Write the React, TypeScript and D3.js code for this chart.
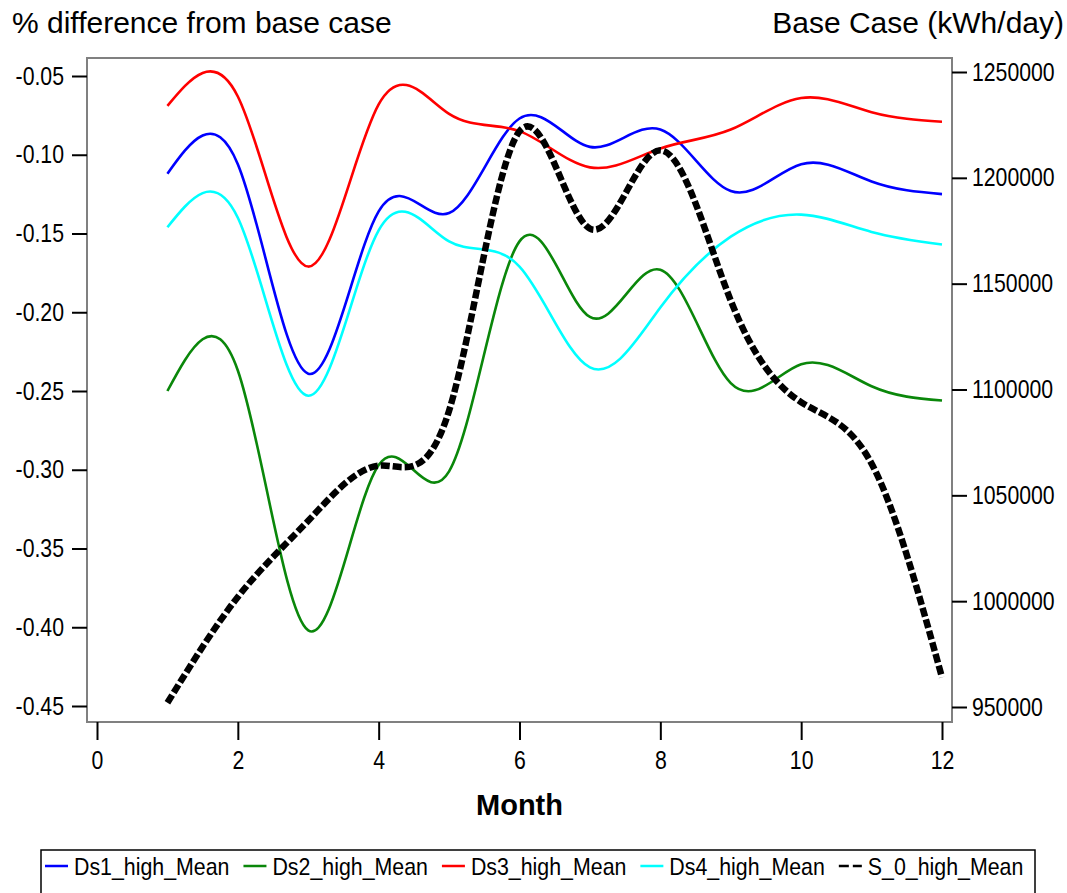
import React, { useRef, useEffect } from 'react';
import * as d3 from 'd3';

// monthly means
const months = [1, 2, 3, 4, 5, 6, 7, 8, 9, 10, 11, 12];
const ds1High = [-0.112, -0.106, -0.239, -0.136, -0.137, -0.077, -0.095, -0.084, -0.123, -0.106, -0.117, -0.125];
const ds2High = [-0.250, -0.237, -0.402, -0.297, -0.301, -0.155, -0.203, -0.173, -0.245, -0.233, -0.247, -0.256];
const ds3High = [-0.069, -0.063, -0.171, -0.068, -0.074, -0.085, -0.108, -0.096, -0.084, -0.064, -0.073, -0.079];
const ds4High = [-0.146, -0.140, -0.253, -0.148, -0.155, -0.171, -0.235, -0.197, -0.152, -0.138, -0.149, -0.157];
const s0High = [952000, 1002000, 1038000, 1064000, 1090000, 1222000, 1176000, 1213000, 1142000, 1094000, 1065000, 964000];

const seriesNames = ['Ds1_high_Mean', 'Ds2_high_Mean', 'Ds3_high_Mean', 'Ds4_high_Mean', 'S_0_high_Mean'];
const seriesColors = ['#0000ff', '#0a870a', '#ff0000', '#00ffff', '#000000'];

const leftTicks = [-0.45, -0.40, -0.35, -0.30, -0.25, -0.20, -0.15, -0.10, -0.05];
const rightTicks = [950000, 1000000, 1050000, 1100000, 1150000, 1200000, 1250000];
const monthTicks = [0, 2, 4, 6, 8, 10, 12];

const FONT = '"Liberation Sans", Arial, sans-serif';
const SQ = 0.85; // the original glyphs are narrow

const App = () => {
    const svgRef = useRef<SVGSVGElement>(null);

    useEffect(() => {
        drawChart();
    }, []);

    const drawChart = () => {
        const svg = d3.select(svgRef.current);
        svg.selectAll('*').remove();

        const frame = { left: 87, right: 952, top: 58, bottom: 722 };

        const x = d3.scaleLinear().domain([0, 12]).range([97, 942]);
        const yL = d3.scaleLinear().domain([-0.45, -0.05]).range([706, 76]);
        const yR = d3.scaleLinear().domain([950000, 1250000]).range([707, 72]);

        svg.append('rect')
            .attr('width', 1067).attr('height', 893).attr('fill', '#fff');

        // plot frame
        svg.append('rect')
            .attr('x', frame.left).attr('y', frame.top)
            .attr('width', frame.right - frame.left)
            .attr('height', frame.bottom - frame.top)
            .attr('fill', 'none')
            .attr('stroke', '#808080')
            .attr('stroke-width', 2);

        const styleAxis = (g, size) => {
            g.select('.domain').remove();
            g.attr('font-family', FONT).attr('font-size', size);
            g.selectAll('line').attr('stroke', '#000').attr('stroke-width', 2);
            g.selectAll('text').attr('fill', '#000');
        };

        const gL = svg.append('g')
            .attr('transform', `translate(${frame.left},0)`)
            .call(d3.axisLeft(yL).tickValues(leftTicks).tickSize(15).tickFormat(d => d.toFixed(2)));
        styleAxis(gL, 25);
        gL.selectAll('text').attr('x', -23 / SQ).attr('transform', `scale(${SQ},1)`);

        const gR = svg.append('g')
            .attr('transform', `translate(${frame.right},0)`)
            .call(d3.axisRight(yR).tickValues(rightTicks).tickSize(15).tickFormat(d => String(d)));
        styleAxis(gR, 25);
        gR.selectAll('text').attr('x', 20 / SQ).attr('transform', `scale(${SQ},1)`);

        const gB = svg.append('g')
            .attr('transform', `translate(0,${frame.bottom})`)
            .call(d3.axisBottom(x).tickValues(monthTicks).tickSize(18).tickFormat(d => String(d)));
        styleAxis(gB, 25);
        gB.selectAll('text').attr('y', 29).attr('transform', `scale(${SQ},1)`);

        // titles
        svg.append('text')
            .attr('x', 12).attr('y', 33)
            .attr('font-family', FONT).attr('font-size', 30)
            .text('% difference from base case');

        svg.append('text')
            .attr('x', 1064).attr('y', 33)
            .attr('text-anchor', 'end')
            .attr('font-family', FONT).attr('font-size', 30)
            .text('Base Case (kWh/day)');

        svg.append('text')
            .attr('x', (x(0) + x(12)) / 2).attr('y', 815)
            .attr('text-anchor', 'middle')
            .attr('font-family', FONT).attr('font-size', 29).attr('font-weight', 'bold')
            .text('Month');

        // series
        const leftLine = d3.line<number>()
            .x((d, i) => x(months[i]))
            .y(d => yL(d))
            .curve(d3.curveNatural);

        const rightLine = d3.line<number>()
            .x((d, i) => x(months[i]))
            .y(d => yR(d))
            .curve(d3.curveNatural);

        [ds1High, ds2High, ds3High, ds4High].forEach((vals, i) => {
            svg.append('path')
                .attr('d', leftLine(vals))
                .attr('fill', 'none')
                .attr('stroke', seriesColors[i])
                .attr('stroke-width', 2.6);
        });

        svg.append('path')
            .attr('d', rightLine(s0High))
            .attr('fill', 'none')
            .attr('stroke', seriesColors[4])
            .attr('stroke-width', 6.5)
            .attr('stroke-dasharray', '9,3');

        // legend
        svg.append('rect')
            .attr('x', 41).attr('y', 850)
            .attr('width', 994).attr('height', 60)
            .attr('fill', 'none')
            .attr('stroke', '#000')
            .attr('stroke-width', 1.5);

        const LSQ = 0.89;
        let cx = 45;
        seriesNames.forEach((name, i) => {
            const lg = svg.append('g').attr('transform', `translate(${cx},0)`);
            lg.append('line')
                .attr('x1', 0).attr('x2', 23)
                .attr('y1', 866).attr('y2', 866)
                .attr('stroke', seriesColors[i])
                .attr('stroke-width', 2.5)
                .attr('stroke-dasharray', i === 4 ? '10,4' : null);
            const t = lg.append('text')
                .attr('x', 29 / LSQ).attr('y', 875)
                .attr('transform', `scale(${LSQ},1)`)
                .attr('font-family', FONT).attr('font-size', 24)
                .text(name);
            const w = (t.node() as SVGTextElement).getComputedTextLength() * LSQ;
            cx += 29 + w + 14;
        });
    };

    return (
        <svg ref={svgRef} width={1067} height={893}
            style={{ position: 'absolute', left: 0, top: 0, display: 'block' }}></svg>
    );
};

export default App;
